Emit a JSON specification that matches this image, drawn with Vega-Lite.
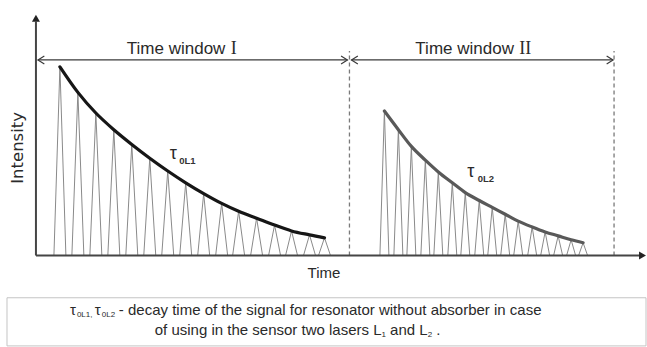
{
  "$schema": "https://vega.github.io/schema/vega-lite/v6.json",
  "width": 647,
  "height": 347,
  "autosize": {"type": "fit", "contains": "padding"},
  "padding": 0,
  "background": "white",
  "config": {"view": {"stroke": null}},
  "datasets": {
    "pulses": [
      {"s": "L1", "x": 60, "h": 192, "xl": 54, "xr": 66, "b": 0},
      {"s": "L1", "x": 78, "h": 166, "xl": 72, "xr": 84, "b": 0},
      {"s": "L1", "x": 96, "h": 145, "xl": 90, "xr": 102, "b": 0},
      {"s": "L1", "x": 114, "h": 128, "xl": 108, "xr": 120, "b": 0},
      {"s": "L1", "x": 132, "h": 113, "xl": 126, "xr": 138, "b": 0},
      {"s": "L1", "x": 150, "h": 99, "xl": 144, "xr": 156, "b": 0},
      {"s": "L1", "x": 168, "h": 86, "xl": 162, "xr": 174, "b": 0},
      {"s": "L1", "x": 186, "h": 74, "xl": 180, "xr": 192, "b": 0},
      {"s": "L1", "x": 204, "h": 63, "xl": 198, "xr": 210, "b": 0},
      {"s": "L1", "x": 222, "h": 53, "xl": 216, "xr": 228, "b": 0},
      {"s": "L1", "x": 239, "h": 45, "xl": 233, "xr": 245, "b": 0},
      {"s": "L1", "x": 257, "h": 38, "xl": 251, "xr": 263, "b": 0},
      {"s": "L1", "x": 275, "h": 31, "xl": 269, "xr": 281, "b": 0},
      {"s": "L1", "x": 292, "h": 25, "xl": 286, "xr": 298, "b": 0},
      {"s": "L1", "x": 310, "h": 21, "xl": 304, "xr": 316, "b": 0},
      {"s": "L1", "x": 325, "h": 18, "xl": 319, "xr": 331, "b": 0},
      {"s": "L2", "x": 385, "h": 147, "xl": 380.5, "xr": 389.5, "b": 0},
      {"s": "L2", "x": 399, "h": 128, "xl": 394.5, "xr": 403.5, "b": 0},
      {"s": "L2", "x": 412, "h": 111, "xl": 407.5, "xr": 416.5, "b": 0},
      {"s": "L2", "x": 426, "h": 97, "xl": 421.5, "xr": 430.5, "b": 0},
      {"s": "L2", "x": 439, "h": 85, "xl": 434.5, "xr": 443.5, "b": 0},
      {"s": "L2", "x": 453, "h": 74, "xl": 448.5, "xr": 457.5, "b": 0},
      {"s": "L2", "x": 466, "h": 64, "xl": 461.5, "xr": 470.5, "b": 0},
      {"s": "L2", "x": 480, "h": 56, "xl": 475.5, "xr": 484.5, "b": 0},
      {"s": "L2", "x": 493, "h": 49, "xl": 488.5, "xr": 497.5, "b": 0},
      {"s": "L2", "x": 506, "h": 42, "xl": 501.5, "xr": 510.5, "b": 0},
      {"s": "L2", "x": 519, "h": 35, "xl": 514.5, "xr": 523.5, "b": 0},
      {"s": "L2", "x": 533, "h": 29, "xl": 528.5, "xr": 537.5, "b": 0},
      {"s": "L2", "x": 546, "h": 24, "xl": 541.5, "xr": 550.5, "b": 0},
      {"s": "L2", "x": 559, "h": 20, "xl": 554.5, "xr": 563.5, "b": 0},
      {"s": "L2", "x": 572, "h": 16, "xl": 567.5, "xr": 576.5, "b": 0},
      {"s": "L2", "x": 584, "h": 13, "xl": 579.5, "xr": 588.5, "b": 0}
    ]
  },
  "layer": [
    {
      "data": {"values": [{"x": 7, "x2": 647, "y": -43, "y2": -92}]},
      "mark": {"type": "rect", "fill": "white", "stroke": "#c4c4c4", "strokeWidth": 1},
      "encoding": {
        "x": {"field": "x", "type": "quantitative", "scale": {"domain": [0, 647], "nice": false, "zero": false}, "axis": null},
        "x2": {"field": "x2"},
        "y": {"field": "y", "type": "quantitative", "scale": {"domain": [-87, 260], "nice": false, "zero": false}, "axis": null},
        "y2": {"field": "y2"}
      }
    },
    {
      "data": {"values": [{"x": 350, "y": 0, "y2": 208}, {"x": 615, "y": 0, "y2": 208}]},
      "mark": {"type": "rule", "stroke": "#7a7a7a", "strokeWidth": 1.3, "strokeDash": [4, 3]},
      "encoding": {
        "x": {"field": "x", "type": "quantitative", "scale": {"domain": [0, 647], "nice": false, "zero": false}, "axis": null},
        "y": {"field": "y", "type": "quantitative", "scale": {"domain": [-87, 260], "nice": false, "zero": false}, "axis": null},
        "y2": {"field": "y2"}
      }
    },
    {
      "data": {"name": "pulses"},
      "mark": {"type": "rule", "stroke": "#8a8a8a", "strokeWidth": 1},
      "encoding": {
        "x": {"field": "xl", "type": "quantitative", "scale": {"domain": [0, 647], "nice": false, "zero": false}, "axis": null},
        "y": {"field": "b", "type": "quantitative", "scale": {"domain": [-87, 260], "nice": false, "zero": false}, "axis": null},
        "x2": {"field": "x"},
        "y2": {"field": "h"}
      }
    },
    {
      "data": {"name": "pulses"},
      "mark": {"type": "rule", "stroke": "#8a8a8a", "strokeWidth": 1},
      "encoding": {
        "x": {"field": "x", "type": "quantitative", "scale": {"domain": [0, 647], "nice": false, "zero": false}, "axis": null},
        "y": {"field": "h", "type": "quantitative", "scale": {"domain": [-87, 260], "nice": false, "zero": false}, "axis": null},
        "x2": {"field": "xr"},
        "y2": {"field": "b"}
      }
    },
    {
      "data": {"name": "pulses"},
      "mark": {"type": "line", "interpolate": "monotone", "strokeWidth": 3.2, "strokeCap": "round"},
      "encoding": {
        "x": {"field": "x", "type": "quantitative", "scale": {"domain": [0, 647], "nice": false, "zero": false}, "axis": null},
        "y": {"field": "h", "type": "quantitative", "scale": {"domain": [-87, 260], "nice": false, "zero": false}, "axis": null},
        "color": {"field": "s", "type": "nominal", "scale": {"domain": ["L1", "L2"], "range": ["#161616", "#595959"]}, "legend": null}
      }
    },
    {
      "data": {"values": [{"x": 36, "y": 0, "x2": 36, "y2": 238}, {"x": 36, "y": 0, "x2": 641, "y2": 0}]},
      "mark": {"type": "rule", "stroke": "#454545", "strokeWidth": 2},
      "encoding": {
        "x": {"field": "x", "type": "quantitative", "scale": {"domain": [0, 647], "nice": false, "zero": false}, "axis": null},
        "y": {"field": "y", "type": "quantitative", "scale": {"domain": [-87, 260], "nice": false, "zero": false}, "axis": null},
        "x2": {"field": "x2"},
        "y2": {"field": "y2"}
      }
    },
    {
      "data": {"values": [{"x": 36, "y": 241.5}]},
      "mark": {"type": "point", "shape": "triangle-up", "filled": true, "size": 64, "color": "#222222", "opacity": 1},
      "encoding": {
        "x": {"field": "x", "type": "quantitative", "scale": {"domain": [0, 647], "nice": false, "zero": false}, "axis": null},
        "y": {"field": "y", "type": "quantitative", "scale": {"domain": [-87, 260], "nice": false, "zero": false}, "axis": null}
      }
    },
    {
      "data": {"values": [{"x": 643.5, "y": 0}]},
      "mark": {"type": "point", "shape": "triangle-right", "filled": true, "size": 64, "color": "#222222", "opacity": 1},
      "encoding": {
        "x": {"field": "x", "type": "quantitative", "scale": {"domain": [0, 647], "nice": false, "zero": false}, "axis": null},
        "y": {"field": "y", "type": "quantitative", "scale": {"domain": [-87, 260], "nice": false, "zero": false}, "axis": null}
      }
    },
    {
      "data": {"values": [{"x": 38, "x2": 348, "y": 199}, {"x": 352, "x2": 614, "y": 199}]},
      "mark": {"type": "rule", "stroke": "#3a3a3a", "strokeWidth": 1.2},
      "encoding": {
        "x": {"field": "x", "type": "quantitative", "scale": {"domain": [0, 647], "nice": false, "zero": false}, "axis": null},
        "x2": {"field": "x2"},
        "y": {"field": "y", "type": "quantitative", "scale": {"domain": [-87, 260], "nice": false, "zero": false}, "axis": null}
      }
    },
    {
      "data": {"values": [{"x": 38, "y": 199}, {"x": 352, "y": 199}]},
      "mark": {"type": "point", "shape": "M1.6,-1L0,0L1.6,1", "filled": false, "size": 64, "stroke": "#3a3a3a", "strokeWidth": 1.2, "opacity": 1},
      "encoding": {
        "x": {"field": "x", "type": "quantitative", "scale": {"domain": [0, 647], "nice": false, "zero": false}, "axis": null},
        "y": {"field": "y", "type": "quantitative", "scale": {"domain": [-87, 260], "nice": false, "zero": false}, "axis": null}
      }
    },
    {
      "data": {"values": [{"x": 348, "y": 199}, {"x": 614, "y": 199}]},
      "mark": {"type": "point", "shape": "M-1.6,-1L0,0L-1.6,1", "filled": false, "size": 64, "stroke": "#3a3a3a", "strokeWidth": 1.2, "opacity": 1},
      "encoding": {
        "x": {"field": "x", "type": "quantitative", "scale": {"domain": [0, 647], "nice": false, "zero": false}, "axis": null},
        "y": {"field": "y", "type": "quantitative", "scale": {"domain": [-87, 260], "nice": false, "zero": false}, "axis": null}
      }
    },
    {
      "data": {"values": [{"x": 127, "y": 205, "t": "Time window"}, {"x": 416, "y": 205, "t": "Time window"}]},
      "mark": {"type": "text", "font": "Liberation Sans", "fontSize": 17, "align": "left", "baseline": "alphabetic", "color": "#2a2a2a"},
      "encoding": {
        "x": {"field": "x", "type": "quantitative", "scale": {"domain": [0, 647], "nice": false, "zero": false}, "axis": null},
        "y": {"field": "y", "type": "quantitative", "scale": {"domain": [-87, 260], "nice": false, "zero": false}, "axis": null},
        "text": {"field": "t"}
      }
    },
    {
      "data": {"values": [{"x": 231, "y": 205, "t": "I"}, {"x": 520, "y": 205, "t": "II"}]},
      "mark": {"type": "text", "font": "Liberation Serif", "fontSize": 18, "align": "left", "baseline": "alphabetic", "color": "#2a2a2a"},
      "encoding": {
        "x": {"field": "x", "type": "quantitative", "scale": {"domain": [0, 647], "nice": false, "zero": false}, "axis": null},
        "y": {"field": "y", "type": "quantitative", "scale": {"domain": [-87, 260], "nice": false, "zero": false}, "axis": null},
        "text": {"field": "t"}
      }
    },
    {
      "data": {"values": [{"x": 324.5, "y": -23, "t": "Time"}]},
      "mark": {"type": "text", "font": "Liberation Sans", "fontSize": 15, "align": "center", "baseline": "alphabetic", "color": "#2a2a2a"},
      "encoding": {
        "x": {"field": "x", "type": "quantitative", "scale": {"domain": [0, 647], "nice": false, "zero": false}, "axis": null},
        "y": {"field": "y", "type": "quantitative", "scale": {"domain": [-87, 260], "nice": false, "zero": false}, "axis": null},
        "text": {"field": "t"}
      }
    },
    {
      "data": {"values": [{"x": 23, "y": 109.5, "t": "Intensity"}]},
      "mark": {"type": "text", "font": "DejaVu Sans", "fontSize": 16.5, "align": "center", "baseline": "alphabetic", "angle": 270, "color": "#2a2a2a"},
      "encoding": {
        "x": {"field": "x", "type": "quantitative", "scale": {"domain": [0, 647], "nice": false, "zero": false}, "axis": null},
        "y": {"field": "y", "type": "quantitative", "scale": {"domain": [-87, 260], "nice": false, "zero": false}, "axis": null},
        "text": {"field": "t"}
      }
    },
    {
      "data": {"values": [{"x": 170, "y": 98, "t": "τ"}, {"x": 468, "y": 80, "t": "τ"}]},
      "mark": {"type": "text", "font": "Liberation Sans", "fontSize": 18, "align": "left", "baseline": "alphabetic", "color": "#2a2a2a"},
      "encoding": {
        "x": {"field": "x", "type": "quantitative", "scale": {"domain": [0, 647], "nice": false, "zero": false}, "axis": null},
        "y": {"field": "y", "type": "quantitative", "scale": {"domain": [-87, 260], "nice": false, "zero": false}, "axis": null},
        "text": {"field": "t"}
      }
    },
    {
      "data": {"values": [{"x": 179.5, "y": 93, "t": "0L1"}, {"x": 478.5, "y": 75, "t": "0L2"}]},
      "mark": {"type": "text", "font": "Liberation Sans", "fontSize": 9.5, "fontWeight": "bold", "align": "left", "baseline": "alphabetic", "color": "#333333"},
      "encoding": {
        "x": {"field": "x", "type": "quantitative", "scale": {"domain": [0, 647], "nice": false, "zero": false}, "axis": null},
        "y": {"field": "y", "type": "quantitative", "scale": {"domain": [-87, 260], "nice": false, "zero": false}, "axis": null},
        "text": {"field": "t"}
      }
    },
    {
      "data": {"values": [
        {"x": 70, "y": -61, "t": "τ"},
        {"x": 95, "y": -61, "t": "τ"},
        {"x": 119, "y": -61, "t": "- decay time of the signal for resonator without absorber in case"},
        {"x": 155, "y": -81, "t": "of using in the sensor two lasers L"},
        {"x": 390.7, "y": -81, "t": "and L"},
        {"x": 437, "y": -81, "t": "."}
      ]},
      "mark": {"type": "text", "font": "Liberation Sans", "fontSize": 15, "align": "left", "baseline": "alphabetic", "color": "#2a2a2a"},
      "encoding": {
        "x": {"field": "x", "type": "quantitative", "scale": {"domain": [0, 647], "nice": false, "zero": false}, "axis": null},
        "y": {"field": "y", "type": "quantitative", "scale": {"domain": [-87, 260], "nice": false, "zero": false}, "axis": null},
        "text": {"field": "t"}
      }
    },
    {
      "data": {"values": [
        {"x": 77, "y": -63, "t": "0L1,"},
        {"x": 102, "y": -63, "t": "0L2"},
        {"x": 382, "y": -83, "t": "1"},
        {"x": 428.5, "y": -83, "t": "2"}
      ]},
      "mark": {"type": "text", "font": "Liberation Sans", "fontSize": 8, "align": "left", "baseline": "alphabetic", "color": "#2a2a2a"},
      "encoding": {
        "x": {"field": "x", "type": "quantitative", "scale": {"domain": [0, 647], "nice": false, "zero": false}, "axis": null},
        "y": {"field": "y", "type": "quantitative", "scale": {"domain": [-87, 260], "nice": false, "zero": false}, "axis": null},
        "text": {"field": "t"}
      }
    }
  ]
}
